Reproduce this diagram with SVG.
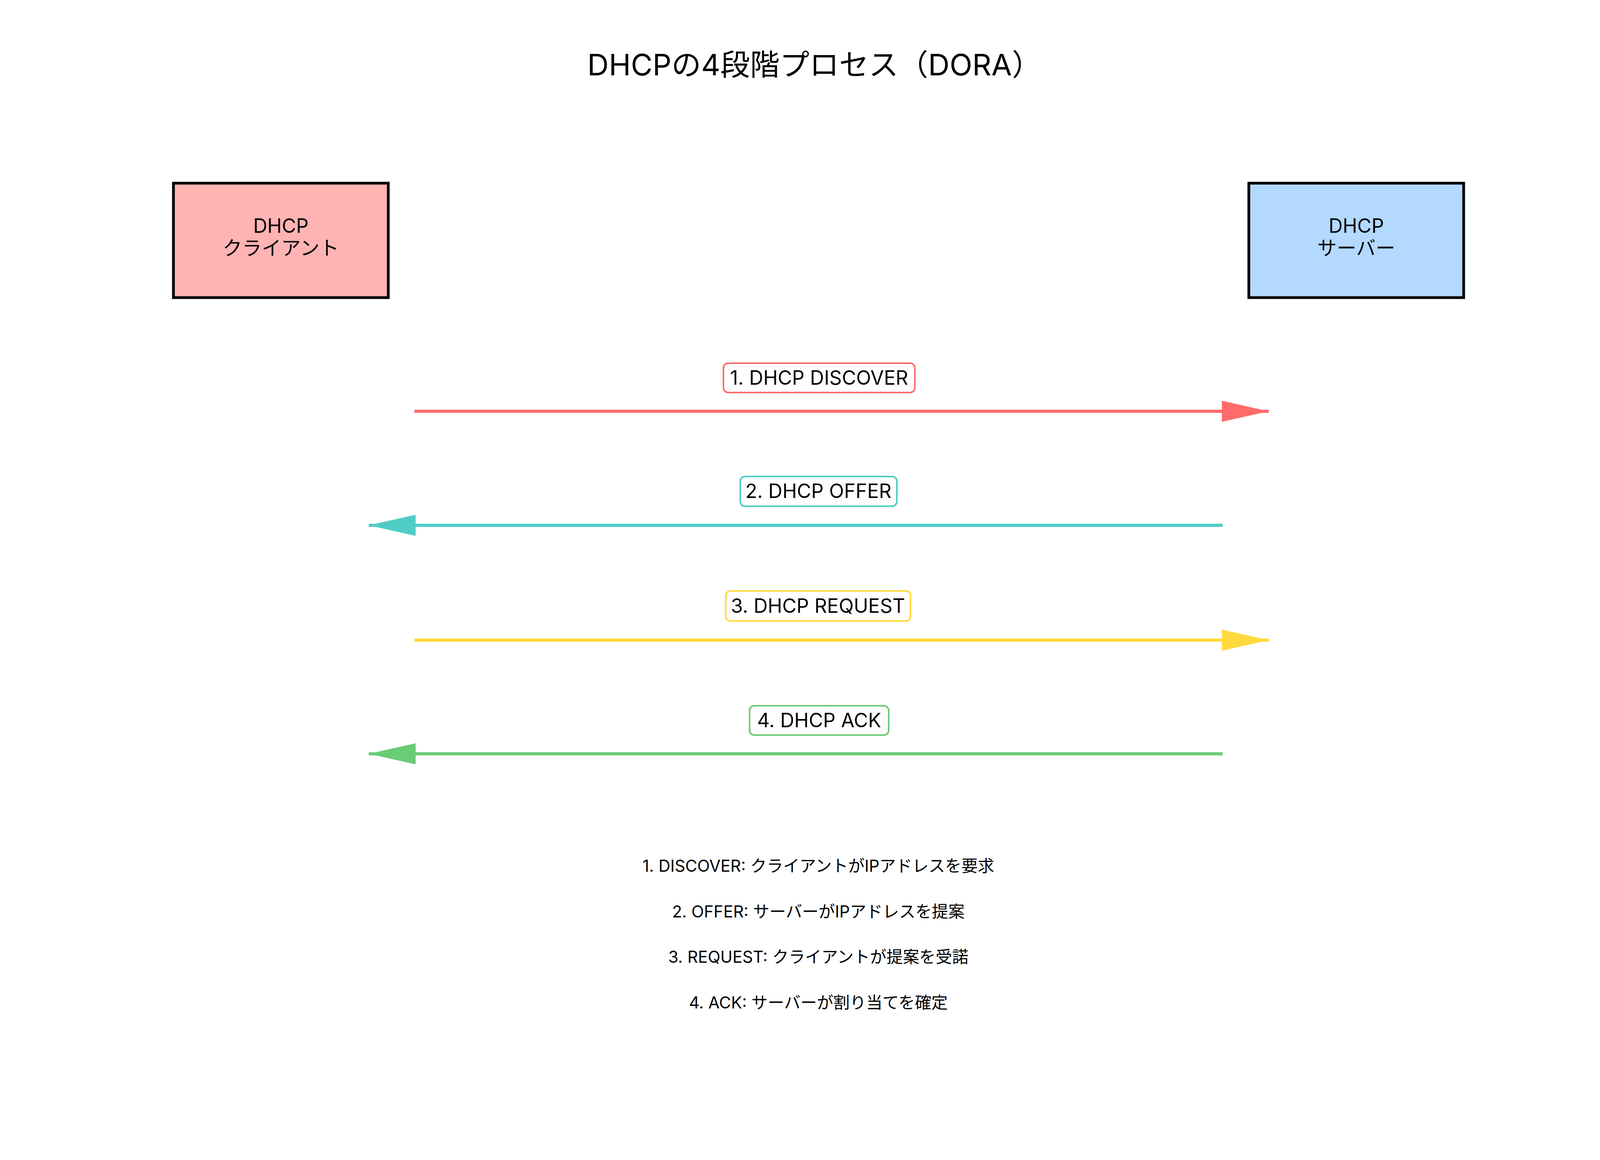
<svg xmlns="http://www.w3.org/2000/svg" width="4170" height="2970" viewBox="0 0 4170 2970">
<style>
text{font-family:"Inter","Noto Sans CJK JP",sans-serif;fill:#000;text-anchor:middle}
.t{font-size:76px}
.n{font-size:50px}
.l{font-size:50px}
.s{font-size:42px}
.box{stroke:#000;stroke-width:7}
.lb{fill:#fff;stroke-width:4}
</style>
<defs>
<marker id="ar" viewBox="0 0 120 54" refX="120" refY="27" markerWidth="120" markerHeight="54" markerUnits="userSpaceOnUse" orient="auto"><path d="M0,0L120,27L0,54Z" fill="#FF6B6B"/></marker>
<marker id="at" viewBox="0 0 120 54" refX="120" refY="27" markerWidth="120" markerHeight="54" markerUnits="userSpaceOnUse" orient="auto"><path d="M0,0L120,27L0,54Z" fill="#4ECDC4"/></marker>
<marker id="ay" viewBox="0 0 120 54" refX="120" refY="27" markerWidth="120" markerHeight="54" markerUnits="userSpaceOnUse" orient="auto"><path d="M0,0L120,27L0,54Z" fill="#FFD93D"/></marker>
<marker id="ag" viewBox="0 0 120 54" refX="120" refY="27" markerWidth="120" markerHeight="54" markerUnits="userSpaceOnUse" orient="auto"><path d="M0,0L120,27L0,54Z" fill="#6BCB77"/></marker>
</defs>
<rect width="4170" height="2970" fill="#fff"/>
<text class="t" x="2085" y="193">DHCPの4段階プロセス（DORA）</text>
<g id="client"><rect class="box" x="444" y="469" width="550" height="293" fill="#FFB3B3"/><text class="n" x="719" y="596">DHCP</text><text class="n" x="719" y="653">クライアント</text></g>
<g id="server"><rect class="box" x="3197" y="469" width="550" height="293" fill="#B3D9FF"/><text class="n" x="3472" y="596">DHCP</text><text class="n" x="3472" y="653">サーバー</text></g>
<g id="connectors" stroke-width="8" fill="none">
<line x1="1061" y1="1053" x2="3248" y2="1053" stroke="#FF6B6B" marker-end="url(#ar)"/>
<line x1="3130" y1="1345" x2="944" y2="1345" stroke="#4ECDC4" marker-end="url(#at)"/>
<line x1="1061" y1="1639" x2="3248" y2="1639" stroke="#FFD93D" marker-end="url(#ay)"/>
<line x1="3130" y1="1930" x2="944" y2="1930" stroke="#6BCB77" marker-end="url(#ag)"/>
</g>
<g id="label1"><rect class="lb" x="1852" y="930" width="490" height="75" rx="12" stroke="#FF6B6B"/><text class="l" x="2097" y="985">1. DHCP DISCOVER</text></g>
<g id="label2"><rect class="lb" x="1895" y="1220" width="401" height="76" rx="12" stroke="#4ECDC4"/><text class="l" x="2095" y="1275">2. DHCP OFFER</text></g>
<g id="label3"><rect class="lb" x="1858" y="1513" width="473" height="77" rx="12" stroke="#FFD93D"/><text class="l" x="2094" y="1569">3. DHCP REQUEST</text></g>
<g id="label4"><rect class="lb" x="1919" y="1807" width="356" height="75" rx="12" stroke="#6BCB77"/><text class="l" x="2097" y="1862">4. DHCP ACK</text></g>
<g id="notes">
<text class="s" x="2095" y="2232">1. DISCOVER: クライアントがIPアドレスを要求</text>
<text class="s" x="2095" y="2349">2. OFFER: サーバーがIPアドレスを提案</text>
<text class="s" x="2095" y="2465">3. REQUEST: クライアントが提案を受諾</text>
<text class="s" x="2095" y="2582">4. ACK: サーバーが割り当てを確定</text>
</g>
</svg>
